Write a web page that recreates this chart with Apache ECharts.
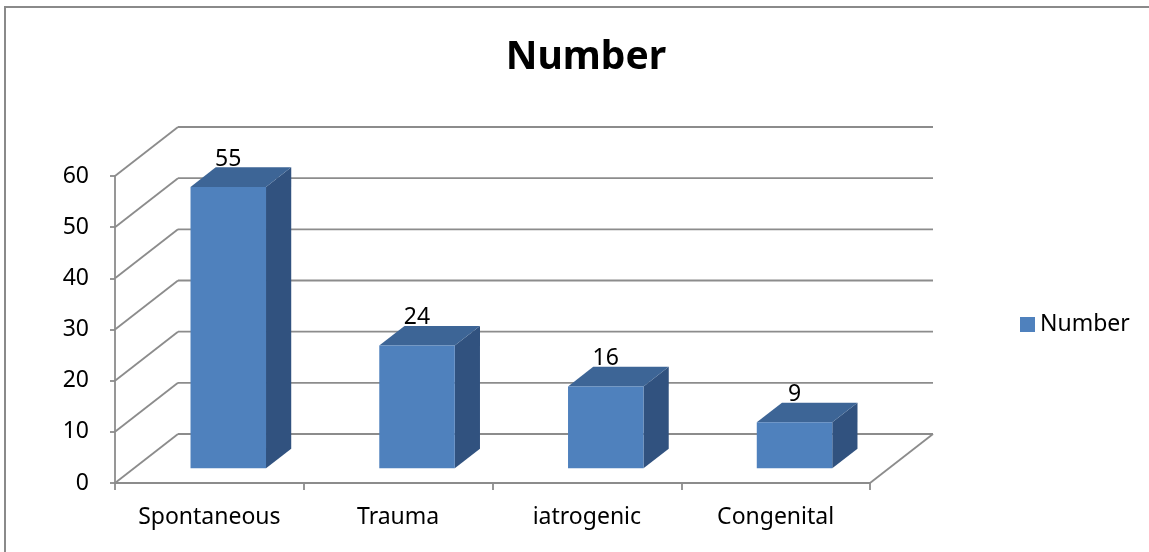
<!DOCTYPE html>
<html>
<head>
<meta charset="utf-8">
<title>Number</title>
<script src="https://cdn.jsdelivr.net/npm/echarts@6/dist/echarts.min.js"></script>
<style>
  html, body { margin: 0; padding: 0; background: #ffffff; }
  #chart { width: 1149px; height: 552px; }
</style>
</head>
<body>
<div id="chart"></div>
<script>
// Chart data
const categories = ['Spontaneous', 'Trauma', 'iatrogenic', 'Congenital'];
const values = [55, 24, 16, 9];
const yTicks = [0, 10, 20, 30, 40, 50, 60];
const seriesName = 'Number';

// Perspective depth of the plot box (pixels) and bar geometry
const DX = 63, DY = -49;
const BAR_FRONT = 0.3, BAR_DEPTH = 0.4, BAR_WIDTH = 0.4;

const FONT = '"Noto Sans", "Open Sans", sans-serif';
const GRID_COLOR = '#8c8c8c';
const FRONT = '#4F81BD', SIDE = '#31527F', TOP = '#3D6596';

function seg(x1, y1, x2, y2) {
  return {
    type: 'line',
    shape: { x1: x1, y1: y1, x2: x2, y2: y2 },
    style: { stroke: GRID_COLOR, lineWidth: 1.8 }
  };
}

// Back wall, side wall and floor edge of the 3D box
function renderWalls(params, api) {
  const bw = api.size([1, 0])[0];
  const xl = api.coord([0, 0])[0] - bw / 2;
  const xr = api.coord([categories.length - 1, 0])[0] + bw / 2;
  const children = [];
  yTicks.forEach(function (v) {
    const y = api.coord([0, v])[1];
    children.push(seg(xl, y, xl + DX, y + DY));
    children.push(seg(xl + DX, y + DY, xr + DX, y + DY));
  });
  const y0 = api.coord([0, 0])[1];
  children.push(seg(xr, y0, xr + DX, y0 + DY));
  return { type: 'group', children: children };
}

// One 3D column: front face, right side, top, and value label
function renderBar(params, api) {
  const i = api.value(0);
  const v = api.value(1);
  const base = api.coord([i, 0]);
  const topPt = api.coord([i, v]);
  const bw = api.size([1, 0])[0] * BAR_WIDTH;
  const fx = DX * BAR_FRONT, fy = DY * BAR_FRONT;
  const dx = DX * BAR_DEPTH, dy = DY * BAR_DEPTH;
  const xl = base[0] - bw / 2 + fx;
  const xr = base[0] + bw / 2 + fx;
  const yt = topPt[1] + fy;
  const yb = base[1] + fy;
  return {
    type: 'group',
    children: [
      {
        type: 'polygon',
        shape: { points: [[xr, yt], [xr + dx, yt + dy], [xr + dx, yb + dy], [xr, yb]] },
        style: { fill: SIDE }
      },
      {
        type: 'polygon',
        shape: { points: [[xl, yt], [xr, yt], [xr + dx, yt + dy], [xl + dx, yt + dy]] },
        style: { fill: TOP }
      },
      {
        type: 'rect',
        shape: { x: xl, y: yt, width: xr - xl, height: yb - yt },
        style: { fill: FRONT }
      },
      {
        type: 'text',
        style: {
          text: String(v),
          x: (xl + xr) / 2,
          y: yt + dy - 8,
          align: 'center',
          verticalAlign: 'middle',
          fill: '#000000',
          font: '23px ' + FONT
        }
      }
    ]
  };
}

const chart = echarts.init(document.getElementById('chart'), null, { renderer: 'canvas' });

chart.setOption({
  animation: false,
  backgroundColor: '#ffffff',
  title: {
    text: seriesName,
    left: 581,
    top: 33,
    textAlign: 'center',
    textStyle: { fontFamily: FONT, fontWeight: 'bold', fontSize: 39, color: '#000000' }
  },
  legend: {
    data: [{ name: seriesName, icon: 'rect' }],
    orient: 'vertical',
    left: 1015,
    top: 308,
    itemWidth: 15,
    itemHeight: 15,
    itemGap: 8,
    textStyle: { fontFamily: FONT, fontSize: 23, color: '#000000' }
  },
  graphic: [
    {
      type: 'rect',
      shape: { x: 5, y: 7, width: 1200, height: 600 },
      style: { fill: 'none', stroke: '#8a8a8a', lineWidth: 2 },
      silent: true
    }
  ],
  grid: { left: 115, right: 279, top: 176, bottom: 69 },
  xAxis: {
    type: 'category',
    data: categories,
    boundaryGap: true,
    axisLine: { show: true, lineStyle: { color: GRID_COLOR, width: 1.8 } },
    axisTick: { show: true, alignWithLabel: false, length: 7, lineStyle: { color: GRID_COLOR, width: 1.8 } },
    axisLabel: { margin: 23, fontFamily: FONT, fontSize: 23, color: '#000000' },
    splitLine: { show: false }
  },
  yAxis: {
    type: 'value',
    min: 0,
    max: 60,
    interval: 10,
    axisLine: { show: true, lineStyle: { color: GRID_COLOR, width: 1.8 } },
    axisTick: { show: true, length: 5, lineStyle: { color: GRID_COLOR, width: 1.8 } },
    axisLabel: { margin: 26, fontFamily: FONT, fontSize: 23, color: '#000000' },
    splitLine: { show: false }
  },
  series: [
    {
      name: 'walls',
      type: 'custom',
      silent: true,
      z: 1,
      renderItem: renderWalls,
      data: [[0, 0]]
    },
    {
      name: seriesName,
      type: 'custom',
      z: 2,
      itemStyle: { color: FRONT },
      renderItem: renderBar,
      encode: { x: 0, y: 1 },
      data: values.map(function (v, i) { return [i, v]; })
    }
  ]
});
</script>
</body>
</html>
